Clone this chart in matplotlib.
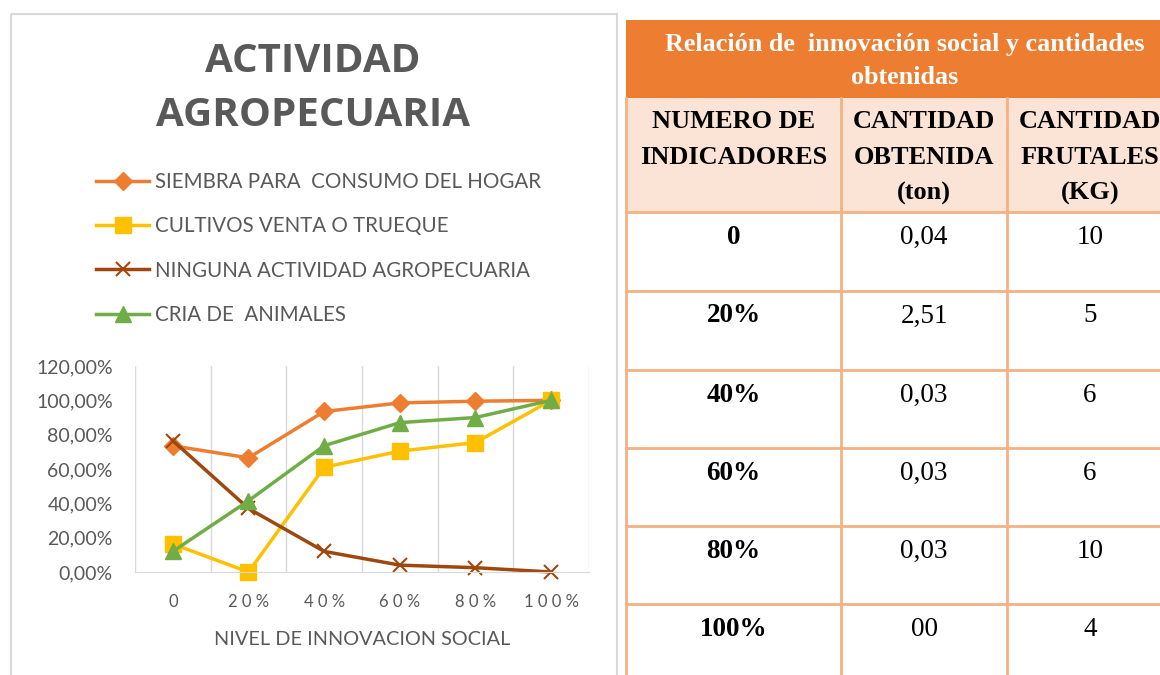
import matplotlib.pyplot as plt
from matplotlib.patches import Rectangle

# datos del grafico
niveles = ["0", "20%", "40%", "60%", "80%", "100%"]
siembra = [0.735, 0.665, 0.935, 0.985, 0.995, 1.0]
cultivos = [0.163, 0.0, 0.61, 0.704, 0.754, 1.0]
ninguna = [0.765, 0.37, 0.12, 0.04, 0.025, 0.0]
cria = [0.12, 0.415, 0.736, 0.87, 0.90, 1.0]
nombres = ["SIEMBRA PARA  CONSUMO DEL HOGAR", "CULTIVOS VENTA O TRUEQUE",
           "NINGUNA ACTIVIDAD AGROPECUARIA", "CRIA DE  ANIMALES"]

# datos de la tabla
tabla_titulo = ["Relación de  innovación social y cantidades", "obtenidas"]
tabla_columnas = [["NUMERO DE", "INDICADORES"],
                  ["CANTIDAD", "OBTENIDA", "(ton)"],
                  ["CANTIDAD", "FRUTALES", "(KG)"]]
indicadores = ["0", "20%", "40%", "60%", "80%", "100%"]
cantidad_ton = ["0,04", "2,51", "0,03", "0,03", "0,03", "00"]
frutales_kg = ["10", "5", "6", "6", "10", "4"]

W, H = 1160, 675
gris = "#595959"
sans = ["Lato", "DejaVu Sans"]
serif = ["Liberation Serif", "DejaVu Serif"]

fig = plt.figure(figsize=(W / 100, H / 100), dpi=100)

# fondo en pixeles: marco del grafico y tabla
bg = fig.add_axes([0, 0, 1, 1])
bg.set_xlim(0, W)
bg.set_ylim(H, 0)
bg.axis("off")
bg.add_patch(Rectangle((11, 14), 606, 700, fill=False, ec="#D9D9D9", lw=1.5))

# tabla
x_cols = [626, 841, 1007, 1173]
bg.add_patch(Rectangle((626, 20), 1173 - 626, 78, fc="#ED7D31", ec="none"))
for i, t in enumerate(tabla_titulo):
    bg.text(905, 44 + 34 * i, t, ha="center", va="center", color="white",
            fontsize=18.8, fontweight="bold", family=serif)
bg.add_patch(Rectangle((626, 98), 1173 - 626, 114, fc="#FBE4D5", ec="none"))
for c, lineas in enumerate(tabla_columnas):
    xc = (x_cols[c] + x_cols[c + 1]) / 2
    for i, t in enumerate(lineas):
        bg.text(xc, 121 + 36 * i, t, ha="center", va="center", color="black",
                fontsize=19, fontweight="bold", family=serif)
row_tops = [212, 291, 370, 448, 526, 604]
for r in range(len(indicadores)):
    y = row_tops[r] + 25
    vals = [indicadores[r], cantidad_ton[r], frutales_kg[r]]
    for c in range(3):
        xc = (x_cols[c] + x_cols[c + 1]) / 2
        bg.text(xc, y, vals[c], ha="center", va="center", color="black",
                fontsize=19.5, fontweight="bold" if c == 0 else "normal", family=serif)
borde = "#F4B183"
for yl in row_tops + [683]:
    bg.plot([626, 1173], [yl, yl], color=borde, lw=2)
for xl in x_cols:
    bg.plot([xl, xl], [98, 683], color=borde, lw=2)

# titulo del grafico
titulo_font = ["Open Sans", "DejaVu Sans"]
bg.text(313, 62, "ACTIVIDAD", ha="center", va="center", color=gris,
        fontsize=29, fontweight="bold", family=titulo_font)
bg.text(313, 115, "AGROPECUARIA", ha="center", va="center", color=gris,
        fontsize=29, fontweight="bold", family=titulo_font)

# grafico de lineas
ax = fig.add_axes([135 / W, (H - 572) / H, (589 - 135) / W, (572 - 366) / H])
x = range(len(niveles))
estilos = [(siembra, "#ED7D31", "D", 9), (cultivos, "#FFC000", "s", 12),
           (ninguna, "#9E480E", "x", 10), (cria, "#70AD47", "^", 12)]
for (vals, col, mk, ms), nombre in zip(estilos, nombres):
    ax.plot(x, vals, color=col, lw=2.5, marker=mk, markersize=ms,
            markeredgewidth=1.5 if mk == "x" else 1, label=nombre, clip_on=False)

ax.set_xlim(-0.5, 5.5)
ax.set_ylim(0, 1.2)
ax.set_yticks([0, 0.2, 0.4, 0.6, 0.8, 1.0, 1.2])
ax.set_yticklabels(["%d,00%%" % round(v * 100) for v in [0, 0.2, 0.4, 0.6, 0.8, 1.0, 1.2]],
                   color=gris, fontsize=14, family=sans)
ax.set_xticks(list(x))
ax.set_xticklabels([" ".join(n) for n in niveles], color=gris, fontsize=12, family=sans)
ax.set_xticks([i - 0.5 for i in range(7)], minor=True)
ax.grid(True, which="minor", axis="x", color="#D9D9D9", lw=1)
ax.tick_params(which="both", length=0)
ax.tick_params(axis="x", pad=16)
ax.tick_params(axis="y", pad=16)
for s in ["top", "right", "left"]:
    ax.spines[s].set_visible(False)
ax.spines["bottom"].set_color("#D9D9D9")
ax.set_xlabel("NIVEL DE INNOVACION SOCIAL", color=gris, fontsize=14.3, family=sans, labelpad=15)

leg = ax.legend(loc="upper left", bbox_to_anchor=(96 / W, 1 - 172 / H),
                bbox_transform=fig.transFigure, frameon=False,
                prop={"family": sans, "size": 14.8}, handlelength=2.6,
                handletextpad=0.25, labelspacing=1.18, borderpad=0, borderaxespad=0)
for t in leg.get_texts():
    t.set_color(gris)

fig.savefig("out.png", dpi=100)
